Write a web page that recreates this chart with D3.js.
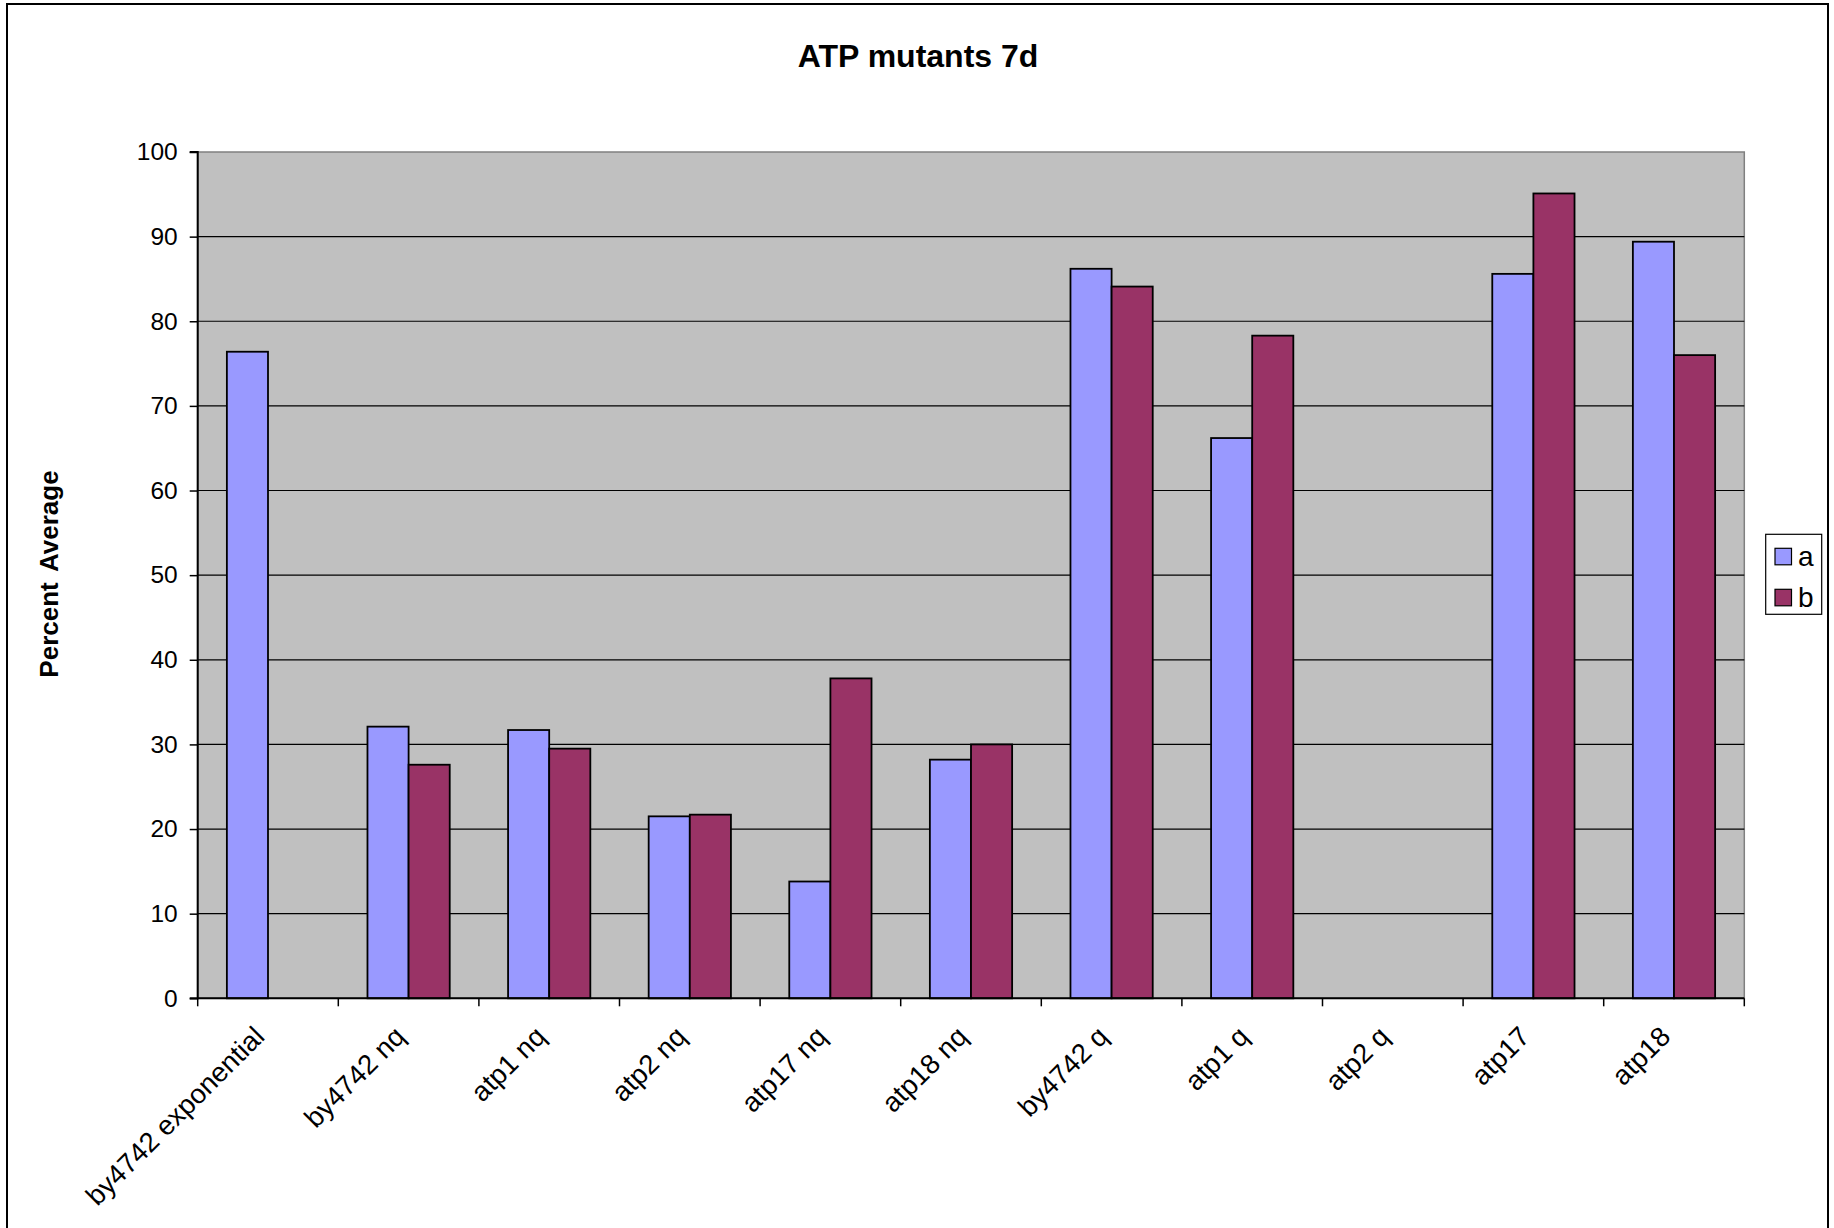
<!DOCTYPE html>
<html>
<head>
<meta charset="utf-8">
<script src="https://cdn.jsdelivr.net/npm/d3@7"></script>
<style>
  html, body { margin: 0; padding: 0; background: #fff; }
  svg { display: block; }
  text { font-family: "Liberation Sans", Arial, Helvetica, sans-serif; fill: #000; }
</style>
</head>
<body>
<script>
// Chart data
const categories = ["by4742 exponential", "by4742 nq", "atp1 nq", "atp2 nq", "atp17 nq", "atp18 nq",
                    "by4742 q", "atp1 q", "atp2 q", "atp17", "atp18"];
const seriesNames = ["a", "b"];
const seriesA = [76.4, 32.1, 31.7, 21.5, 13.8, 28.2, 86.2, 66.2, null, 85.6, 89.4];
const seriesB = [null, 27.6, 29.5, 21.7, 37.8, 30.0, 84.1, 78.3, null, 95.1, 76.0];
const yTicks = [0, 10, 20, 30, 40, 50, 60, 70, 80, 90, 100];
const colors = ["#9999FF", "#993366"];
const title = "ATP mutants 7d";
const yTitle = "Percent Average";

const W = 1834, H = 1228;
const plot = { left: 197.7, right: 1744.3, top: 152, bottom: 998.3 };

const svg = d3.select("body").append("svg").attr("width", W).attr("height", H);

// outer chart frame
svg.append("rect")
  .attr("x", 7).attr("y", 4).attr("width", 1821).attr("height", 1300)
  .attr("fill", "#fff").attr("stroke", "#000").attr("stroke-width", 2);

const x = d3.scaleBand().domain(categories).range([plot.left, plot.right]).padding(0);
const bw = x.bandwidth();
const gw = bw * 0.585;
const xs = d3.scaleBand().domain(seriesNames).range([(bw - gw) / 2, (bw + gw) / 2]).padding(0);
const y = d3.scaleLinear().domain([0, 100]).range([plot.bottom, plot.top]);

// plot area background
svg.append("rect")
  .attr("x", plot.left).attr("y", plot.top)
  .attr("width", plot.right - plot.left).attr("height", plot.bottom - plot.top)
  .attr("fill", "#C0C0C0").attr("stroke", "#808080").attr("stroke-width", 1.5);

// horizontal gridlines
svg.append("g").selectAll("line")
  .data(yTicks.filter(t => t > 0 && t < 100))
  .join("line")
  .attr("x1", plot.left).attr("x2", plot.right)
  .attr("y1", d => y(d)).attr("y2", d => y(d))
  .attr("stroke", "#000").attr("stroke-width", 1.2);

// bars
const rows = categories.map((c, i) => ({ cat: c, values: [seriesA[i], seriesB[i]] }));
const groups = svg.append("g").selectAll("g")
  .data(rows).join("g")
  .attr("transform", d => `translate(${x(d.cat)},0)`);
groups.selectAll("rect")
  .data(d => d.values.map((v, k) => ({ key: seriesNames[k], v, k })).filter(e => e.v != null))
  .join("rect")
  .attr("x", d => xs(d.key))
  .attr("width", xs.bandwidth())
  .attr("y", d => y(d.v))
  .attr("height", d => y(0) - y(d.v))
  .attr("fill", d => colors[d.k])
  .attr("stroke", "#000").attr("stroke-width", 1.8);

// y axis
const yAxis = d3.axisLeft(y).tickValues(yTicks).tickSize(8).tickPadding(12);
const gy = svg.append("g").attr("transform", `translate(${plot.left},0)`).call(yAxis);
gy.select(".domain").attr("stroke", "#000").attr("stroke-width", 2).attr("d", `M-8,${plot.top}H0V${plot.bottom}H-8`);
gy.selectAll(".tick line").attr("stroke", "#000").attr("stroke-width", 1.5);
gy.selectAll(".tick text")
  .style("font-family", '"Liberation Sans", Arial, sans-serif')
  .style("font-size", "24.5px").attr("fill", "#000");

// x axis: tick marks on category boundaries
const gx = svg.append("g");
gx.append("line")
  .attr("x1", plot.left).attr("x2", plot.right)
  .attr("y1", plot.bottom).attr("y2", plot.bottom)
  .attr("stroke", "#000").attr("stroke-width", 2);
gx.selectAll("line.tk")
  .data(d3.range(categories.length + 1))
  .join("line").attr("class", "tk")
  .attr("x1", i => plot.left + i * bw).attr("x2", i => plot.left + i * bw)
  .attr("y1", plot.bottom).attr("y2", plot.bottom + 8)
  .attr("stroke", "#000").attr("stroke-width", 1.5);
gx.selectAll("text")
  .data(categories).join("text")
  .attr("transform", d => `translate(${x(d) + bw / 2 - 2},${plot.bottom + 40}) rotate(-45)`)
  .attr("text-anchor", "end")
  .style("font-size", "27.5px")
  .text(d => d);

// title
svg.append("text")
  .attr("x", 918).attr("y", 67)
  .attr("text-anchor", "middle")
  .style("font-size", "32px").style("font-weight", "bold")
  .text(title);

// y axis title
svg.append("text")
  .attr("transform", `translate(58,574) rotate(-90)`)
  .attr("text-anchor", "middle")
  .style("font-size", "26px").style("font-weight", "bold")
  .style("word-spacing", "4px")
  .text(yTitle);

// legend
const lg = svg.append("g");
lg.append("rect")
  .attr("x", 1765.7).attr("y", 534.3).attr("width", 56).attr("height", 80)
  .attr("fill", "#fff").attr("stroke", "#000").attr("stroke-width", 1.2);
const items = lg.selectAll("g.item").data(seriesNames).join("g").attr("class", "item")
  .attr("transform", (d, i) => `translate(1775,${548.3 + i * 41})`);
items.append("rect")
  .attr("width", 16.5).attr("height", 16.5)
  .attr("fill", (d, i) => colors[i]).attr("stroke", "#000").attr("stroke-width", 1.2);
items.append("text")
  .attr("x", 23).attr("y", 17.5)
  .style("font-size", "28px")
  .text(d => d);
</script>
</body>
</html>
